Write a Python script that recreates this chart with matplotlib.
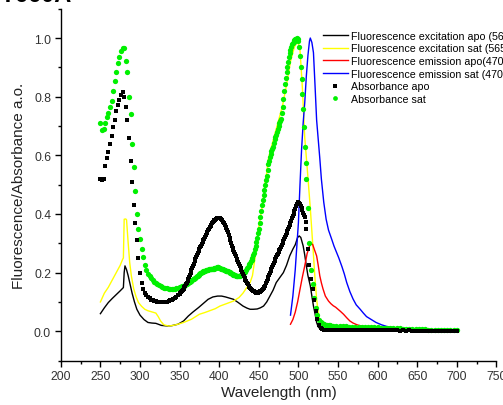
import numpy as np
import matplotlib
matplotlib.use('Agg')
import matplotlib.pyplot as plt
from matplotlib.ticker import MultipleLocator

plt.rcParams['font.family'] = ['Liberation Sans', 'DejaVu Sans']

# absorbance spectra: 2 nm steps, 1 nm steps over 350-510, 4 nm in the tail
wl_abs = np.concatenate([np.arange(250, 350, 2), np.arange(350, 511, 1),
                         np.arange(512, 541, 2), np.arange(544, 701, 4)])

abs_apo = [
    # 250-348
    0.52, 0.515, 0.52, 0.565, 0.59, 0.61, 0.64, 0.667, 0.695, 0.72,
    0.75, 0.77, 0.79, 0.805, 0.815, 0.80, 0.765, 0.72, 0.66, 0.58,
    0.51, 0.43, 0.37, 0.31, 0.25, 0.20, 0.165, 0.143, 0.13, 0.122,
    0.116, 0.112, 0.108, 0.105, 0.103, 0.102, 0.101, 0.100, 0.100, 0.100,
    0.100, 0.100, 0.101, 0.103, 0.105, 0.107, 0.110, 0.113, 0.118, 0.122,
    # 350-510
    0.127, 0.130, 0.133, 0.136, 0.140, 0.145, 0.150, 0.155, 0.160, 0.166,
    0.172, 0.179, 0.186, 0.193, 0.200, 0.208, 0.215, 0.223, 0.230, 0.238,
    0.245, 0.252, 0.259, 0.266, 0.273, 0.280, 0.286, 0.292, 0.298, 0.304,
    0.310, 0.316, 0.322, 0.328, 0.334, 0.340, 0.345, 0.350, 0.355, 0.360,
    0.364, 0.368, 0.372, 0.375, 0.378, 0.381, 0.383, 0.385, 0.386, 0.387,
    0.387, 0.386, 0.384, 0.381, 0.378, 0.373, 0.368, 0.363, 0.357, 0.351,
    0.345, 0.337, 0.328, 0.319, 0.310, 0.301, 0.292, 0.284, 0.277, 0.269,
    0.262, 0.255, 0.248, 0.242, 0.236, 0.229, 0.222, 0.215, 0.208, 0.201,
    0.195, 0.188, 0.182, 0.176, 0.170, 0.165, 0.160, 0.156, 0.152, 0.148,
    0.145, 0.142, 0.140, 0.138, 0.136, 0.134, 0.133, 0.132, 0.132, 0.132,
    0.133, 0.134, 0.136, 0.138, 0.140, 0.143, 0.146, 0.151, 0.156, 0.163,
    0.170, 0.177, 0.184, 0.191, 0.198, 0.205, 0.212, 0.219, 0.226, 0.233,
    0.240, 0.247, 0.254, 0.260, 0.265, 0.271, 0.276, 0.282, 0.288, 0.294,
    0.300, 0.307, 0.314, 0.321, 0.328, 0.335, 0.342, 0.348, 0.355, 0.362,
    0.370, 0.377, 0.385, 0.392, 0.400, 0.409, 0.418, 0.426, 0.433, 0.438,
    0.440, 0.438, 0.435, 0.428, 0.420, 0.412, 0.405, 0.398, 0.390, 0.372,
    0.350,
    # 512-540
    0.280, 0.225, 0.178, 0.143, 0.105, 0.070, 0.041, 0.020, 0.012, 0.008,
    0.006, 0.005, 0.005, 0.004, 0.004,
    # 544-700
    0.004, 0.004, 0.004, 0.004, 0.004, 0.004, 0.003, 0.004, 0.003, 0.003,
    0.003, 0.003, 0.003, 0.003, 0.003, 0.003, 0.003, 0.003, 0.003, 0.003,
    0.003, 0.002, 0.003, 0.002, 0.003, 0.002, 0.002, 0.002, 0.002, 0.002,
    0.002, 0.002, 0.002, 0.002, 0.002, 0.002, 0.002, 0.002, 0.002, 0.002,
]

abs_sat = [
    # 250-348
    0.71, 0.685, 0.69, 0.71, 0.73, 0.746, 0.765, 0.786, 0.82, 0.855,
    0.885, 0.915, 0.935, 0.955, 0.965, 0.965, 0.922, 0.883, 0.80, 0.74,
    0.64, 0.56, 0.48, 0.40, 0.35, 0.314, 0.28, 0.252, 0.225, 0.208,
    0.196, 0.188, 0.180, 0.174, 0.168, 0.164, 0.160, 0.157, 0.154, 0.151,
    0.149, 0.147, 0.146, 0.145, 0.144, 0.143, 0.143, 0.144, 0.146, 0.148,
    # 350-510
    0.150, 0.151, 0.152, 0.153, 0.154, 0.155, 0.156, 0.158, 0.160, 0.161,
    0.163, 0.165, 0.167, 0.169, 0.171, 0.173, 0.175, 0.177, 0.179, 0.181,
    0.183, 0.185, 0.187, 0.190, 0.192, 0.195, 0.197, 0.199, 0.201, 0.203,
    0.204, 0.206, 0.207, 0.208, 0.209, 0.210, 0.210, 0.211, 0.211, 0.212,
    0.212, 0.213, 0.213, 0.214, 0.215, 0.216, 0.217, 0.218, 0.218, 0.218,
    0.217, 0.216, 0.214, 0.213, 0.212, 0.211, 0.210, 0.209, 0.207, 0.206,
    0.205, 0.204, 0.202, 0.201, 0.199, 0.198, 0.196, 0.195, 0.193, 0.192,
    0.191, 0.190, 0.189, 0.189, 0.189, 0.189, 0.190, 0.191, 0.192, 0.194,
    0.196, 0.199, 0.202, 0.206, 0.210, 0.215, 0.220, 0.224, 0.228, 0.233,
    0.238, 0.244, 0.250, 0.259, 0.268, 0.279, 0.290, 0.304, 0.318, 0.334,
    0.350, 0.370, 0.390, 0.411, 0.432, 0.449, 0.465, 0.483, 0.500, 0.515,
    0.530, 0.550, 0.570, 0.582, 0.593, 0.604, 0.615, 0.623, 0.630, 0.643,
    0.655, 0.663, 0.670, 0.680, 0.690, 0.700, 0.710, 0.718, 0.725, 0.745,
    0.765, 0.792, 0.820, 0.843, 0.865, 0.883, 0.900, 0.918, 0.935, 0.948,
    0.960, 0.969, 0.978, 0.983, 0.988, 0.992, 0.996, 0.998, 1.000, 0.996,
    0.990, 0.970, 0.940, 0.900, 0.860, 0.810, 0.758, 0.695, 0.630, 0.575,
    0.520,
    # 512-540
    0.420, 0.300, 0.210, 0.160, 0.115, 0.080, 0.055, 0.040, 0.032, 0.027,
    0.024, 0.022, 0.021, 0.020, 0.020,
    # 544-700
    0.019, 0.018, 0.018, 0.017, 0.017, 0.016, 0.016, 0.015, 0.015, 0.015,
    0.014, 0.014, 0.013, 0.013, 0.013, 0.012, 0.012, 0.011, 0.011, 0.011,
    0.010, 0.010, 0.009, 0.009, 0.009, 0.008, 0.008, 0.007, 0.007, 0.007,
    0.006, 0.006, 0.005, 0.005, 0.005, 0.004, 0.004, 0.004, 0.003, 0.003,
]

# fluorescence excitation, apo
wl_exc_apo = [250, 255, 260, 265, 270, 275, 279, 280, 281, 283, 285, 287, 290,
              293, 296, 300, 305, 310, 315, 320, 327, 335, 340, 348, 355, 361,
              367, 374, 380, 386, 392, 398, 403, 408, 413, 418, 424, 430, 435,
              439, 443, 448, 452, 456, 460, 464, 468, 472, 477, 481, 485, 489,
              493, 496, 499, 501, 503, 506, 508, 510, 512, 515, 517, 519, 521,
              523, 525, 528, 532, 540, 550]
exc_apo = [0.06, 0.08, 0.098, 0.112, 0.125, 0.138, 0.149, 0.20, 0.223, 0.21,
           0.19, 0.166, 0.13, 0.10, 0.075, 0.055, 0.04, 0.03, 0.028, 0.027,
           0.02, 0.018, 0.019, 0.024, 0.035, 0.052, 0.066, 0.081, 0.095, 0.109,
           0.117, 0.12, 0.12, 0.117, 0.113, 0.109, 0.098, 0.086, 0.079, 0.075,
           0.075, 0.076, 0.080, 0.086, 0.10, 0.12, 0.14, 0.166, 0.185, 0.20,
           0.225, 0.257, 0.28, 0.295, 0.32, 0.325, 0.32, 0.291, 0.26, 0.223,
           0.19, 0.155, 0.12, 0.086, 0.06, 0.03, 0.015, 0.006, 0.003, 0.002,
           0.002]

# fluorescence excitation, sat
wl_exc_sat = [250, 255, 260, 265, 270, 275, 278, 279, 280, 282, 283, 285, 287,
              289, 292, 295, 298, 302, 306, 310, 315, 320, 323, 326, 330, 336,
              342, 348, 355, 365, 375, 382, 390, 395, 401, 410, 418, 425, 430,
              435, 439, 442, 445, 447, 449, 451, 454, 456, 458, 460, 462, 466,
              470, 475, 480, 485, 490, 495, 499, 502, 505, 508, 511, 513, 515,
              517, 519, 521, 523, 525, 528, 531, 535, 540]
exc_sat = [0.10, 0.13, 0.15, 0.175, 0.20, 0.225, 0.245, 0.25, 0.382, 0.383,
           0.38, 0.303, 0.234, 0.19, 0.145, 0.118, 0.098, 0.085, 0.075, 0.07,
           0.066, 0.062, 0.05, 0.035, 0.022, 0.018, 0.02, 0.024, 0.03, 0.041,
           0.058, 0.064, 0.072, 0.077, 0.086, 0.095, 0.103, 0.115, 0.13, 0.15,
           0.166, 0.19, 0.246, 0.29, 0.337, 0.375, 0.42, 0.46, 0.507, 0.54,
           0.587, 0.63, 0.67, 0.72, 0.77, 0.84, 0.92, 0.97, 0.99, 0.96,
           0.83, 0.66, 0.56, 0.49, 0.42, 0.34, 0.26, 0.177, 0.11, 0.064,
           0.02, 0.007, 0.003, 0.002]

# fluorescence emission, apo
wl_em_apo = [490, 493, 496, 499, 502, 505, 508, 511, 514, 516, 518, 520, 523,
             525, 527, 529, 531, 534, 538, 541, 544, 547, 550, 553, 557, 561,
             565, 569, 574, 578, 582, 590, 600, 620, 650, 680, 700]
em_apo = [0.024, 0.04, 0.065, 0.10, 0.143, 0.185, 0.223, 0.265, 0.29, 0.298,
          0.296, 0.28, 0.257, 0.225, 0.189, 0.165, 0.145, 0.12, 0.103, 0.094,
          0.087, 0.082, 0.075, 0.068, 0.058, 0.046, 0.035, 0.028, 0.022, 0.019,
          0.017, 0.014, 0.012, 0.009, 0.007, 0.005, 0.004]

# fluorescence emission, sat
wl_em_sat = [490, 493, 496, 498, 500, 502, 504, 506, 508, 510, 512, 514, 515,
             517, 519, 521, 523, 525, 527, 529, 532, 535, 538, 542, 545, 548,
             551, 555, 558, 561, 565, 569, 573, 578, 582, 586, 592, 598, 605,
             612, 620, 640, 660, 680, 700]
em_sat = [0.055, 0.12, 0.21, 0.29, 0.37, 0.50, 0.62, 0.71, 0.78, 0.87,
          0.94, 0.99, 1.0, 0.985, 0.95, 0.837, 0.72, 0.655, 0.59, 0.519,
          0.44, 0.382, 0.345, 0.314, 0.29, 0.27, 0.25, 0.22, 0.195, 0.166,
          0.135, 0.11, 0.09, 0.075, 0.062, 0.05, 0.04, 0.03, 0.022, 0.016,
          0.012, 0.008, 0.006, 0.005, 0.004]

fig = plt.figure(figsize=(5.03, 4.06), dpi=100)
ax = fig.add_axes([0.1209, 0.1094, 0.866, 0.8667])

ax.plot(wl_exc_apo, exc_apo, color='black', lw=1.0,
        label='Fluorescence excitation apo (565 nm)')
ax.plot(wl_exc_sat, exc_sat, color='#ffff00', lw=1.0,
        label='Fluorescence excitation sat (565 nm)')
ax.plot(wl_em_apo, em_apo, color='#ff0000', lw=1.0,
        label='Fluorescence emission apo(470 nm)')
ax.plot(wl_em_sat, em_sat, color='#0000ff', lw=1.0,
        label='Fluorescence emission sat (470 nm)')
ax.plot(wl_abs, abs_apo, ls='none', marker='s', ms=3.3, color='black',
        mew=0, zorder=4, label='Absorbance apo')
ax.plot(wl_abs, abs_sat, ls='none', marker='o', ms=3.8, color='#00f000',
        mew=0, zorder=3, label='Absorbance sat')

ax.set_xlim(200, 750)
ax.set_ylim(-0.1, 1.1)
ax.xaxis.set_major_locator(MultipleLocator(50))
ax.xaxis.set_minor_locator(MultipleLocator(25))
ax.yaxis.set_minor_locator(MultipleLocator(0.1))
ax.set_yticks([0.0, 0.2, 0.4, 0.6, 0.8, 1.0])
ax.set_yticklabels(['0.0', '0.2', '0.4', '0.6', '0.8', '1.0'])

for side in ['top', 'right']:
    ax.spines[side].set_visible(False)
for side in ['left', 'bottom']:
    ax.spines[side].set_linewidth(1.0)
ax.tick_params(which='major', direction='out', length=4, width=1.0,
               labelsize=8.7, labelcolor='#333333', pad=3)
ax.tick_params(which='minor', direction='out', length=2.5, width=1.0)

ax.set_xlabel('Wavelength (nm)', fontsize=11, color='#222222', labelpad=2)
ax.set_ylabel('Fluorescence/Absorbance a.o.', fontsize=11, color='#222222',
              labelpad=6)

ax.legend(loc='upper left', bbox_to_anchor=(0.642, 0.922),
          bbox_transform=fig.transFigure, frameon=False, fontsize=7.7,
          borderpad=0, borderaxespad=0, handlelength=2.3, handletextpad=0.3,
          labelspacing=0.25, markerscale=0.9)

fig.text(0.0, 1 - 2 / 406, 'Y660A', fontsize=17, fontweight='bold',
         va='baseline', ha='left')

fig.savefig('out.png', dpi=100)
